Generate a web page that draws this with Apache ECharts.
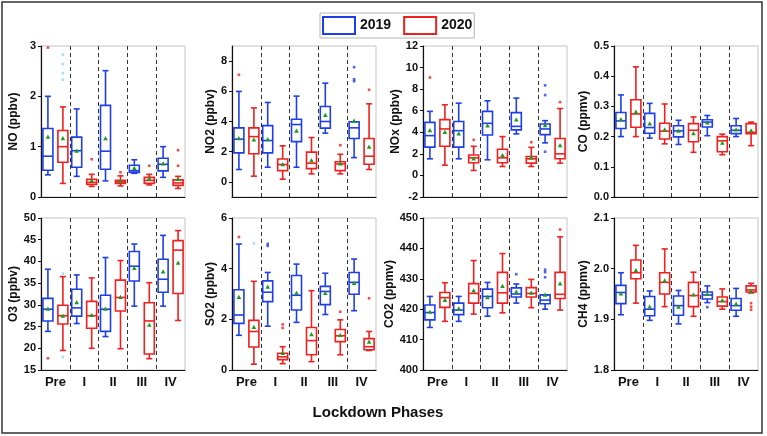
<!DOCTYPE html>
<html><head><meta charset="utf-8">
<script src="https://cdn.jsdelivr.net/npm/echarts@6/dist/echarts.min.js"></script>
<style>html,body{margin:0;padding:0;background:#fff}#c{width:767px;height:436px}</style>
</head><body><div id="c"></div>
<script>
const categories = ['Pre','I','II','III','IV'];
const seriesNames = ['2019','2020'];
const xTitle = 'Lockdown Phases';
// each box: [low whisker, Q1, median, Q3, high whisker, mean]
const NO_2019 = [[0.44,0.53,0.81,1.36,2.0,1.19],[0.41,0.59,0.92,1.19,1.75,0.91],[0.32,0.55,0.91,1.82,2.51,1.16],[0.47,0.49,0.52,0.63,0.74,0.57],[0.39,0.52,0.65,0.77,1.0,0.66]];
const NO_2020 = [[0.27,0.69,1.0,1.32,1.79,1.16],[0.21,0.25,0.29,0.35,0.45,0.32],[0.22,0.27,0.30,0.33,0.42,0.31],[0.24,0.27,0.33,0.39,0.45,0.36],[0.17,0.23,0.28,0.34,0.41,0.35]];
const NO_out2019 = [];
const NO_out2020 = [[1,0.75],[2,0.49],[3,0.62],[4,0.93],[4,0.62]];
const NO_redAt2019 = [[0,2.97]];
const NO_cyanAt2020 = [[0,2.83],[0,2.64],[0,2.46],[0,2.33]];

const NO2_2019 = [[0.82,1.92,2.83,3.58,5.99,2.87],[0.97,1.92,2.74,3.73,5.26,2.8],[0.97,2.67,3.8,4.15,5.68,3.36],[3.23,3.56,4.0,4.99,6.54,4.4],[1.61,2.87,3.58,3.98,3.98,4.02]];
const NO2_2020 = [[0.38,1.86,3.0,3.58,4.9,2.78],[0.18,0.75,1.15,1.52,2.39,1.15],[0.53,0.88,1.24,1.97,2.94,1.41],[0.53,0.75,1.19,1.33,1.83,1.19],[0.82,1.17,1.7,2.87,5.17,2.3]];
const NO2_out2019 = [[4,7.6],[4,6.8],[4,6.67]];
const NO2_out2020 = [[3,2.43],[4,6.1]];
const NO2_redAt2019 = [[0,7.09]];
const NO2_cyanAt2020 = [];

const NOx_2019 = [[1.54,2.62,3.69,4.92,5.94,4.15],[1.54,2.62,4.15,5.0,6.7,3.85],[1.45,3.75,4.83,5.94,6.92,4.6],[3.85,4.22,4.55,5.82,7.17,5.14],[3.02,3.78,4.31,4.77,5.08,4.62]];
const NOx_2020 = [[0.95,2.71,4.31,5.17,6.55,4.0],[0.46,1.17,1.63,1.9,2.7,1.54],[0.83,1.17,1.63,2.43,3.6,1.85],[0.83,1.14,1.54,1.75,2.6,1.63],[1.14,1.54,2.0,3.42,6.2,2.77]];
const NOx_out2019 = [[4,8.35],[4,7.45],[4,2.2]];
const NOx_out2020 = [[1,3.3],[3,3.08],[4,6.8]];
const NOx_redAt2019 = [[0,9.08]];
const NOx_cyanAt2020 = [];

const CO_2019 = [[0.2,0.227,0.252,0.28,0.338,0.256],[0.195,0.211,0.23,0.277,0.31,0.242],[0.174,0.199,0.219,0.236,0.254,0.218],[0.203,0.232,0.248,0.256,0.27,0.245],[0.2,0.21,0.221,0.236,0.26,0.222]];
const CO_2020 = [[0.2,0.231,0.275,0.322,0.431,0.281],[0.176,0.192,0.218,0.244,0.308,0.222],[0.148,0.183,0.221,0.243,0.265,0.21],[0.14,0.15,0.186,0.2,0.208,0.178],[0.17,0.21,0.214,0.243,0.248,0.219]];
const CO_out2019 = [];
const CO_out2020 = [];
const CO_redAt2019 = [];
const CO_cyanAt2020 = [];

const O3_2019 = [[23.9,26.3,29.0,31.5,38.2,29.0],[25.7,27.4,29.3,33.6,36.9,30.5],[22.7,23.9,29.0,32.2,40.9,29.0],[29.7,35.5,38.9,42.3,44.0,38.4],[29.7,32.9,35.9,40.5,46.0,37.6]];
const O3_2020 = [[19.5,25.6,27.5,29.9,36.5,27.4],[20.0,24.6,27.5,30.8,36.2,27.6],[19.9,28.6,31.7,35.7,40.2,31.7],[17.6,18.7,26.3,30.5,35.1,25.3],[26.4,32.6,42.6,44.8,47.1,39.6]];
const O3_out2019 = [];
const O3_out2020 = [];
const O3_redAt2019 = [[0,17.7]];
const O3_cyanAt2020 = [[0,37.2],[0,18.0]];

const SO2_2019 = [[1.37,1.84,2.17,3.17,4.97,2.87],[1.73,2.7,3.07,3.52,3.85,3.27],[1.88,2.37,2.95,3.73,4.18,3.03],[2.19,2.58,3.1,3.3,3.82,3.02],[2.34,2.99,3.46,3.85,4.38,3.42]];
const SO2_2020 = [[0.23,0.91,1.52,1.96,3.5,1.68],[0.25,0.41,0.52,0.66,0.92,0.66],[0.33,0.6,1.16,1.68,3.13,1.4],[0.6,1.12,1.35,1.6,1.98,1.37],[0.77,0.8,0.92,1.24,1.52,1.1]];
const SO2_out2019 = [[1,4.98],[1,4.9]];
const SO2_out2020 = [[1,1.8],[1,1.66],[3,2.3],[4,2.83]];
const SO2_redAt2019 = [[0,5.25]];
const SO2_cyanAt2020 = [[0,5.0]];

const CO2_2019 = [[414.0,416.5,418.9,421.4,424.2,419.0],[416.0,418.2,419.7,422.0,424.2,420.1],[417.7,420.5,424.2,426.6,428.8,423.8],[422.0,424.0,425.0,427.0,428.3,425.6],[420.0,421.8,423.0,424.7,424.7,424.6]];
const CO2_2020 = [[416.0,420.6,423.8,425.5,428.7,422.9],[418.4,422.0,425.2,428.4,436.0,426.0],[418.8,422.0,425.4,432.1,438.3,427.5],[420.5,424.0,425.2,427.1,429.8,425.3],[419.7,423.5,424.9,432.1,443.8,428.3]];
const CO2_out2019 = [[3,431.5],[4,433.0],[4,432.2],[4,430.5]];
const CO2_out2020 = [[4,446.2]];
const CO2_redAt2019 = [];
const CO2_cyanAt2020 = [];

const CH4_2019 = [[1.909,1.931,1.953,1.967,1.992,1.950],[1.898,1.907,1.92,1.945,1.956,1.924],[1.891,1.908,1.927,1.946,1.957,1.924],[1.933,1.94,1.948,1.954,1.966,1.949],[1.906,1.918,1.927,1.941,1.961,1.93]];
const CH4_2020 = [[1.932,1.98,1.992,2.017,2.046,1.996],[1.925,1.95,1.973,1.992,2.039,1.976],[1.906,1.925,1.947,1.973,1.993,1.948],[1.92,1.926,1.935,1.944,1.96,1.937],[1.952,1.954,1.958,1.966,1.971,1.955]];
const CH4_out2019 = [[3,1.924]];
const CH4_out2020 = [[4,1.932],[4,1.925],[4,1.919]];
const CH4_redAt2019 = [];
const CH4_cyanAt2020 = [];

const NO2_ticks = [0,2,4,6,8];

const BLUE = '#1f3fe6', RED = '#ee2020', GREEN = '#1e9a1e', CYAN = '#8ed6f2';
const FONT = '"Liberation Sans", Arial, sans-serif';

const panels = [
  {name:'NO (ppbv)',  b:NO_2019,  r:NO_2020,  ob:NO_out2019,  or:NO_out2020,  xb:NO_redAt2019,  xr:NO_cyanAt2020,  min:0, max:3, interval:1, dec:0, gap:21},
  {name:'NO2 (ppbv)', b:NO2_2019, r:NO2_2020, ob:NO2_out2019, or:NO2_out2020, xb:NO2_redAt2019, xr:NO2_cyanAt2020, min:-1, max:9, custom:NO2_ticks, dec:0, gap:11},
  {name:'NOx (ppbv)', b:NOx_2019, r:NOx_2020, ob:NOx_out2019, or:NOx_out2020, xb:NOx_redAt2019, xr:NOx_cyanAt2020, min:-2, max:12, interval:2, dec:0, gap:14},
  {name:'CO (ppmv)',  b:CO_2019,  r:CO_2020,  ob:CO_out2019,  or:CO_out2020,  xb:CO_redAt2019,  xr:CO_cyanAt2020,  min:0, max:0.5, interval:0.1, dec:1, gap:20},
  {name:'O3 (ppbv)',  b:O3_2019,  r:O3_2020,  ob:O3_out2019,  or:O3_out2020,  xb:O3_redAt2019,  xr:O3_cyanAt2020,  min:15, max:50, interval:5, dec:0, gap:21},
  {name:'SO2 (ppbv)', b:SO2_2019, r:SO2_2020, ob:SO2_out2019, or:SO2_out2020, xb:SO2_redAt2019, xr:SO2_cyanAt2020, min:0, max:6, interval:2, dec:0, gap:14},
  {name:'CO2 (ppmv)', b:CO2_2019, r:CO2_2020, ob:CO2_out2019, or:CO2_out2020, xb:CO2_redAt2019, xr:CO2_cyanAt2020, min:400, max:450, interval:10, dec:0, gap:19},
  {name:'CH4 (ppmv)', b:CH4_2019, r:CH4_2020, ob:CH4_out2019, or:CH4_out2020, xb:CH4_redAt2019, xr:CH4_cyanAt2020, min:1.8, max:2.1, interval:0.1, dec:1, gap:21}
];

const lefts = [41, 232, 423, 614];
const OFF = 0.26;

function boxRender(side, color) {
  return function (params, api) {
    const k = api.value(0);
    const pt = v => api.coord([k, v]);
    const band = api.size([1, 0])[0];
    const cx = pt(api.value(3))[0] + side * band * OFF;
    const yl = pt(api.value(1))[1], y1 = pt(api.value(2))[1], ym = pt(api.value(3))[1],
          y3 = pt(api.value(4))[1], yh = pt(api.value(5))[1], ya = pt(api.value(6))[1];
    const hw = 5, cw = 3;
    const st = {stroke: color, lineWidth: 1.6, fill: null};
    return {type: 'group', children: [
      {type: 'line', shape: {x1: cx, y1: yh, x2: cx, y2: y3}, style: st},
      {type: 'line', shape: {x1: cx, y1: y1, x2: cx, y2: yl}, style: st},
      {type: 'line', shape: {x1: cx - cw, y1: yh, x2: cx + cw, y2: yh}, style: st},
      {type: 'line', shape: {x1: cx - cw, y1: yl, x2: cx + cw, y2: yl}, style: st},
      {type: 'rect', shape: {x: cx - hw, y: y3, width: 2 * hw, height: y1 - y3}, style: {stroke: color, lineWidth: 1.6, fill: 'rgba(255,255,255,0)'}},
      {type: 'line', shape: {x1: cx - hw, y1: ym, x2: cx + hw, y2: ym}, style: st},
      {type: 'polygon', shape: {points: [[cx, ya - 2.6], [cx - 2.3, ya + 1.6], [cx + 2.3, ya + 1.6]]}, style: {fill: GREEN}}
    ]};
  };
}

const grids = [], xAxes = [], yAxes = [], series = [];
panels.forEach((p, i) => {
  const row = Math.floor(i / 4), col = i % 4;
  grids.push({left: lefts[col], top: row ? 218 : 46, width: 144, height: row ? 152 : 151,
    show: true, borderColor: '#c4c4c4', borderWidth: 1, backgroundColor: 'transparent'});
  xAxes.push({type: 'category', gridIndex: i, data: categories,
    axisLine: {onZero: false, lineStyle: {color: '#111', width: 1.2}},
    axisTick: {show: false},
    axisLabel: {show: row === 1, fontWeight: 'bold', fontSize: 13, color: '#111', margin: 6, fontFamily: FONT},
    splitLine: {show: true, showMinLine: false, showMaxLine: false, lineStyle: {type: [4, 3], color: '#333', width: 1}}});
  const y = {type: 'value', gridIndex: i, min: p.min, max: p.max,
    name: p.name, nameLocation: 'middle', nameGap: p.gap,
    nameTextStyle: {fontWeight: 'bold', fontSize: 12, color: '#111', fontFamily: FONT},
    axisLine: {show: true, onZero: false, lineStyle: {color: '#111', width: 1.2}},
    axisTick: {show: true, length: 3, lineStyle: {color: '#111'}},
    axisLabel: {fontWeight: 'bold', fontSize: 11, color: '#111', margin: 5, fontFamily: FONT,
      formatter: v => Number(v).toFixed(p.dec)},
    splitLine: {show: false}};
  if (p.custom) {
    y.axisLabel.customValues = p.custom;
    y.axisTick.customValues = p.custom;
  } else {
    y.interval = p.interval;
  }
  yAxes.push(y);
  [[p.b, -1, BLUE, seriesNames[0]], [p.r, 1, RED, seriesNames[1]]].forEach(([arr, side, color, nm]) => {
    series.push({type: 'custom', name: nm, xAxisIndex: i, yAxisIndex: i,
      renderItem: boxRender(side, color),
      encode: {x: 0, y: [1, 2, 3, 4, 5, 6]},
      data: arr.map((d, k) => [k].concat(d)), silent: true});
  });
  [[p.ob, -1, BLUE], [p.or, 1, RED], [p.xb, -1, RED], [p.xr, 1, CYAN]].forEach(([arr, side, color]) => {
    if (!arr.length) return;
    series.push({type: 'scatter', name: 'out', xAxisIndex: i, yAxisIndex: i, data: arr,
      symbol: 'rect', symbolSize: 2.6, symbolOffset: [side * 144 / 5 * OFF, 0],
      itemStyle: {color: color}, silent: true, z: 3});
  });
});

const chart = echarts.init(document.getElementById('c'), null, {renderer: 'canvas'});
chart.setOption({
  animation: false,
  backgroundColor: '#fff',
  textStyle: {fontFamily: FONT},
  grid: grids, xAxis: xAxes, yAxis: yAxes, series: series,
  legend: {left: 320, top: 13, orient: 'horizontal', padding: [3, 2, 3, 2], itemGap: 12,
    itemWidth: 32, itemHeight: 17, borderColor: '#b4b4b4', borderWidth: 1, selectedMode: false,
    textStyle: {fontSize: 14, fontWeight: 'bold', color: '#111', fontFamily: FONT},
    data: [
      {name: seriesNames[0], icon: 'rect', itemStyle: {color: '#fff', borderColor: BLUE, borderWidth: 2}},
      {name: seriesNames[1], icon: 'rect', itemStyle: {color: '#fff', borderColor: RED, borderWidth: 2}}
    ]},
  graphic: [
    {type: 'rect', shape: {x: 2, y: 2, width: 760, height: 431}, style: {fill: null, stroke: '#333', lineWidth: 1.5}, silent: true},
    {type: 'text', x: 378, y: 413, style: {text: xTitle, fontSize: 15, fontWeight: 'bold', fontFamily: FONT, fill: '#111', align: 'center', verticalAlign: 'middle'}, silent: true}
  ]
});
</script></body></html>
